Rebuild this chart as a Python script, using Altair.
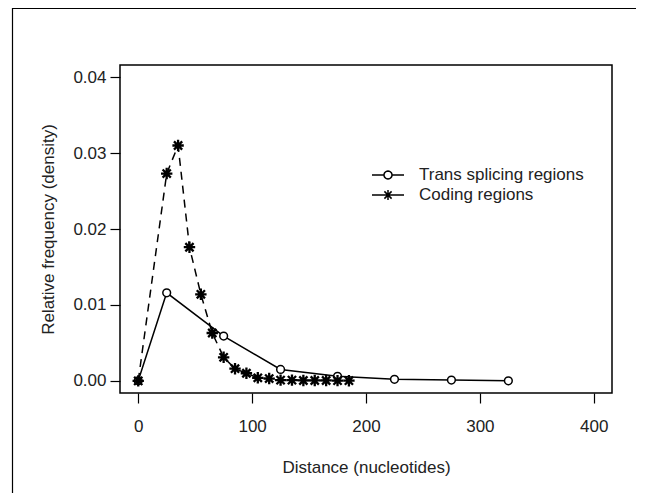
import math
import altair as alt
import pandas as pd

# ---- data ----
trans_x = [0, 25, 75, 125, 175, 225, 275, 325]
trans_y = [0.0, 0.0116, 0.0059, 0.0015, 0.0006, 0.0002, 0.0001, 0.0]

coding_x = [0, 25, 35, 45, 55, 65, 75, 85, 95, 105, 115, 125, 135, 145, 155, 165, 175, 185]
coding_y = [0.0, 0.0273, 0.0310, 0.0176, 0.0114, 0.0063, 0.0031, 0.0016, 0.0010,
            0.0004, 0.0003, 0.0001, 0.0001, 0.00005, 0.00005, 0.00005, 0.00003, 0.00002]

series_names = ["Trans splicing regions", "Coding regions"]
x_ticks = [0, 100, 200, 300, 400]
y_ticks = [0.0, 0.01, 0.02, 0.03, 0.04]

df = pd.DataFrame(
    {"distance": trans_x, "density": trans_y, "series": series_names[0]}
)
df = pd.concat(
    [df, pd.DataFrame({"distance": coding_x, "density": coding_y, "series": series_names[1]})],
    ignore_index=True,
)

FONT = "Liberation Sans"
W, H = 492, 328
PAD = {"left": 112, "top": 57, "right": 25, "bottom": 100}

# symbol paths
asterisk = "M-1,0L1,0M0,-1L0,1M-0.72,-0.72L0.72,0.72M-0.72,0.72L0.72,-0.72"


def circle_path(r, n=24):
    pts = [(r * math.cos(2 * math.pi * i / n), r * math.sin(2 * math.pi * i / n)) for i in range(n)]
    return "M" + "L".join(f"{x:.3f},{y:.3f}" for x, y in pts) + "Z"


leg_circle = "M-1.6,0L-0.4,0M0.4,0L1.6,0" + circle_path(0.4)
r = 0.5
d = r * 0.72
leg_star = (
    "M-1.6,0L-0.5,0M0.5,0L1.6,0"
    f"M-{r},0L{r},0M0,-{r}L0,{r}M-{d},-{d}L{d},{d}M-{d},{d}L{d},-{d}"
)

xscale = alt.Scale(domain=[-16, 416], nice=False, zero=False)
yscale = alt.Scale(domain=[-0.0016, 0.0416], nice=False, zero=False)

base = alt.Chart(df).encode(
    x=alt.X(
        "distance:Q",
        scale=xscale,
        axis=alt.Axis(
            values=x_ticks,
            title="Distance (nucleotides)",
            labelPadding=15,
            titleX=W / 2,
            titleY=79,
            titleBaseline="alphabetic",
            titleAlign="center",
        ),
    ),
    y=alt.Y(
        "density:Q",
        scale=yscale,
        axis=alt.Axis(
            values=y_ticks,
            format=".2f",
            title="Relative frequency (density)",
            labelPadding=4,
            titleAngle=270,
            titleX=-66.5,
            titleY=H / 2,
            titleBaseline="alphabetic",
            titleAlign="center",
        ),
    ),
)

line_trans = base.transform_filter(alt.datum.series == series_names[0]).mark_line(
    color="black", strokeWidth=1.5
)
line_coding = base.transform_filter(alt.datum.series == series_names[1]).mark_line(
    color="black", strokeWidth=1.5, strokeDash=[8, 6]
)
pts_trans = base.transform_filter(alt.datum.series == series_names[0]).mark_point(
    shape="circle", size=60, filled=True, fill="white", stroke="black",
    strokeWidth=1.5, opacity=1
)
pts_coding = base.transform_filter(alt.datum.series == series_names[1]).mark_point(
    shape=asterisk, size=130, filled=False, stroke="black", strokeWidth=2.3, opacity=1
)

legend_layer = base.transform_filter("false").mark_point(
    filled=False, stroke="black", strokeWidth=1.5, opacity=1
).encode(
    shape=alt.Shape(
        "series:N",
        scale=alt.Scale(domain=series_names, range=[leg_circle, leg_star]),
        legend=alt.Legend(
            title=None,
            orient="none",
            legendX=257,
            legendY=99,
            symbolSize=400,
            symbolStrokeColor="black",
            symbolFillColor="transparent",
            symbolStrokeWidth=1.5,
            symbolOpacity=1,
            labelOffset=20,
            labelFont=FONT,
            labelFontSize=17,
            labelColor="#222222",
            labelLimit=400,
            rowPadding=1,
            padding=0,
        ),
    )
)

# outer figure frame: only its top and left edges are drawn
frame_left = alt.Chart(alt.Data(values=[{"k": 1}])).mark_rule(
    color="black", strokeWidth=1.2
).encode(x=alt.value(-107.5), y=alt.value(-57), y2=alt.value(H + 100))
frame_top = alt.Chart(alt.Data(values=[{"k": 1}])).mark_rule(
    color="black", strokeWidth=1.2
).encode(x=alt.value(-108), x2=alt.value(W + 24), y=alt.value(-56.5))

chart = (
    alt.layer(frame_left, frame_top, line_trans, line_coding, pts_trans, pts_coding, legend_layer)
    .properties(
        width=W,
        height=H,
        padding=PAD,
        autosize=alt.AutoSizeParams(type="none"),
        background="white",
    )
    .configure_view(stroke="black", strokeWidth=1.5)
    .configure_axis(
        domain=False,
        grid=False,
        tickColor="black",
        tickSize=10,
        tickWidth=1.2,
        labelFont=FONT,
        labelFontSize=17,
        labelColor="#222222",
        titleFont=FONT,
        titleFontSize=17,
        titleFontWeight="normal",
        titleColor="#222222",
    )
)

chart.save("out.html", embed_options={"renderer": "svg", "actions": False})
